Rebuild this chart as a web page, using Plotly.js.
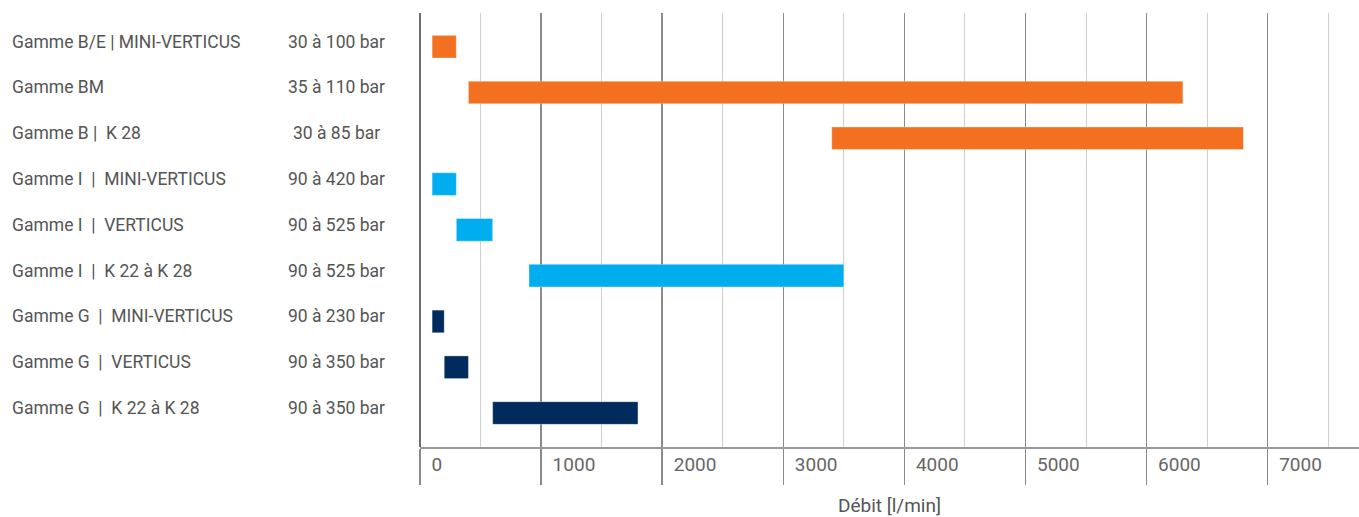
<!DOCTYPE html>
<html>
<head>
<meta charset="utf-8">
<script src="https://cdn.plot.ly/plotly-3.0.1.min.js"></script>
<style>html,body{margin:0;padding:0;background:#fff;}#chart{width:1359px;height:517px;}</style>
</head>
<body>
<div id="chart"></div>
<script>
const names = [
  "Gamme B/E | MINI-VERTICUS",
  "Gamme BM",
  "Gamme B |  K 28",
  "Gamme I  |  MINI-VERTICUS",
  "Gamme I  |  VERTICUS",
  "Gamme I  |  K 22 à K 28",
  "Gamme G  |  MINI-VERTICUS",
  "Gamme G  |  VERTICUS",
  "Gamme G  |  K 22 à K 28"
];
const pressures = [
  "30 à 100 bar", "35 à 110 bar", "30 à 85 bar",
  "90 à 420 bar", "90 à 525 bar", "90 à 525 bar",
  "90 à 230 bar", "90 à 350 bar", "90 à 350 bar"
];
const flowMin = [100, 400, 3400, 100, 300, 900, 100, 200, 600];
const flowMax = [300, 6300, 6800, 300, 600, 3500, 200, 400, 1800];
const groups = ["B", "B", "B", "I", "I", "I", "G", "G", "G"];
const tickValues = [0, 1000, 2000, 3000, 4000, 5000, 6000, 7000];

const groupColors = {B: "#F37021", I: "#00AEEF", G: "#002B5C"};

const trace = {
  type: "bar",
  orientation: "h",
  y: names,
  base: flowMin,
  x: flowMax.map((v, i) => v - flowMin[i]),
  width: 0.495,
  marker: {
    color: groups.map(g => groupColors[g]),
    line: {width: 0.8, color: "rgba(255,255,255,0.45)"}
  },
  hoverinfo: "skip"
};

const L = 420, W = 1359 - 420;
const annotations = [];
names.forEach((n, i) => {
  annotations.push({
    xref: "paper", yref: "y", x: (9.5 - L) / W, y: n, xanchor: "left", yanchor: "middle",
    yshift: 5,
    text: n.replace(/  /g, "&nbsp; "), showarrow: false,
    font: {family: "Roboto", size: 17.5, color: "#555"}
  });
  annotations.push({
    xref: "paper", yref: "y", x: (336 - L) / W, y: n, xanchor: "center", yanchor: "middle",
    yshift: 5,
    text: pressures[i], showarrow: false,
    font: {family: "Roboto", size: 17.5, color: "#555"}
  });
});

const layout = {
  width: 1359, height: 517,
  margin: {l: L, r: 0, t: 13, b: 70},
  paper_bgcolor: "#fff", plot_bgcolor: "#fff",
  showlegend: false,
  bargap: 0,
  xaxis: {
    range: [0, 7754], autorange: false,
    tickvals: tickValues,
    ticktext: tickValues.map(String),
    showgrid: true, gridcolor: "#8a8a8a", gridwidth: 1.5,
    minor: {dtick: 500, tick0: 0, showgrid: true, gridcolor: "#cfcfcf", gridwidth: 1, ticks: ""},
    zeroline: true, zerolinecolor: "#6e6e6e", zerolinewidth: 2,
    showline: true, linecolor: "#9a9a9a", linewidth: 1.5,
    ticks: "outside", ticklen: 36, tickcolor: "#8a8a8a", tickwidth: 1.5,
    ticklabelposition: "outside right",
    ticklabelstandoff: 0,
    ticklabelshift: 10,
    tickfont: {family: "Roboto", size: 19, color: "#666"},
    title: {text: "Débit [l/min]", font: {family: "Roboto", size: 19, color: "#555"}, standoff: 27},
    automargin: false
  },
  yaxis: {
    type: "category",
    range: [8.742, -0.736], autorange: false,
    showgrid: false, zeroline: false, showline: false,
    showticklabels: false, ticks: "",
    automargin: false
  },
  annotations: annotations
};

Plotly.newPlot("chart", [trace], layout, {staticPlot: true, displayModeBar: false});
</script>
</body>
</html>
